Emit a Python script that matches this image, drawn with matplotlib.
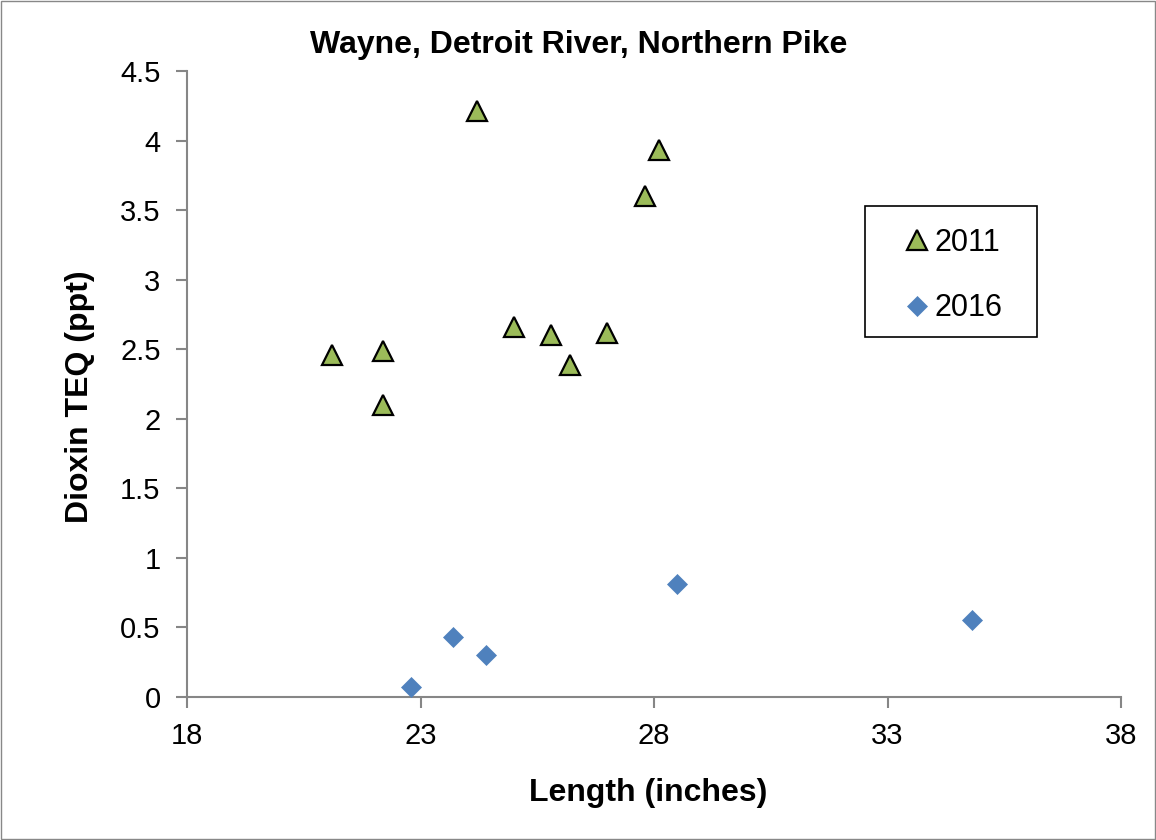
import matplotlib.pyplot as plt
from matplotlib.patches import Rectangle
from matplotlib.ticker import FuncFormatter

# --- data ---
len_2011 = [21.1, 22.2, 22.2, 24.2, 25.0, 25.8, 26.2, 27.0, 27.8, 28.1]
teq_2011 = [2.46, 2.49, 2.10, 4.21, 2.66, 2.60, 2.39, 2.62, 3.60, 3.93]

len_2016 = [22.8, 23.7, 24.4, 28.5, 34.8]
teq_2016 = [0.07, 0.43, 0.30, 0.81, 0.55]

x_ticks = [18, 23, 28, 33, 38]
y_ticks = [0, 0.5, 1, 1.5, 2, 2.5, 3, 3.5, 4, 4.5]

plt.rcParams['font.family'] = ['Liberation Sans', 'DejaVu Sans']

W, H = 1156, 840
fig = plt.figure(figsize=(W / 100, H / 100), dpi=100)
ax = fig.add_axes([187 / W, 1 - 697 / H, (1121 - 187) / W, (697 - 71) / H])

ax.plot(len_2011, teq_2011, linestyle='none', marker='^', markersize=14,
        markerfacecolor='#9BBB59', markeredgecolor='black', markeredgewidth=1.6,
        label='2011', zorder=3)
ax.plot(len_2016, teq_2016, linestyle='none', marker='D', markersize=10,
        markerfacecolor='#4F81BD', markeredgecolor='#4F81BD', markeredgewidth=0.5,
        label='2016', zorder=3)

ax.set_xlim(18, 38)
ax.set_ylim(0, 4.5)
ax.set_xticks(x_ticks)
ax.set_yticks(y_ticks)
ax.yaxis.set_major_formatter(FuncFormatter(lambda v, p: f'{v:g}'))

for s in ['top', 'right']:
    ax.spines[s].set_visible(False)
for s in ['left', 'bottom']:
    ax.spines[s].set_color('#868686')
    ax.spines[s].set_linewidth(1.5)
ax.tick_params(direction='out', length=8, width=1.5, color='#868686',
               labelsize=21)
ax.tick_params(axis='x', pad=10)
ax.tick_params(axis='y', pad=11)

# title and axis titles placed like the reference (figure pixels)
fig.text(579 / W, 1 - 45 / H, 'Wayne, Detroit River, Northern Pike',
         fontsize=23, fontweight='bold', ha='center', va='center')
fig.text(648 / W, 1 - 793 / H, 'Length (inches)', fontsize=23,
         fontweight='bold', ha='center', va='center')
fig.text(80 / W, 1 - 397 / H, 'Dioxin TEQ (ppt)', fontsize=23,
         fontweight='bold', ha='center', va='center', rotation=90)

# legend without its own frame, box drawn separately
leg = ax.legend(loc='upper left', bbox_to_anchor=(0.7655, 0.749), fontsize=22,
                frameon=False, labelspacing=1.15, handletextpad=0.05,
                borderpad=0, borderaxespad=0, handlelength=1.0)
ax.add_patch(Rectangle((0.7259, 0.5751), 0.1842, 0.2093, fill=False,
                       linewidth=1.2, edgecolor='black',
                       transform=ax.transAxes, clip_on=False))

# thin border round the whole chart
fig.patches.append(Rectangle((0.001, 0.001), 0.998, 0.998, fill=False,
                             linewidth=1, edgecolor='#888888',
                             transform=fig.transFigure, figure=fig))

fig.savefig('out.png', dpi=100)
